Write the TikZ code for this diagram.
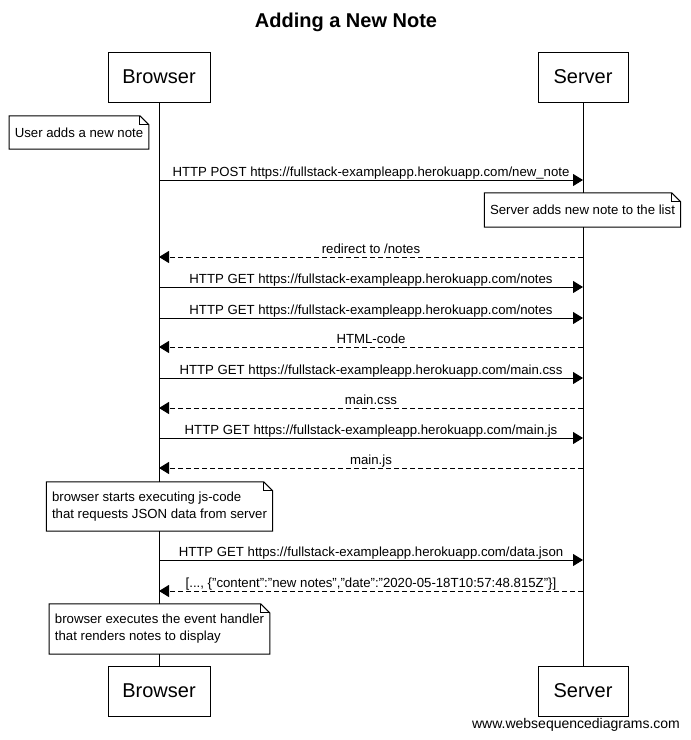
\documentclass[tikz,border=0pt]{standalone}
\usepackage{fontspec}
\setmainfont{Liberation Sans}
\usetikzlibrary{arrows.meta}
\tikzset{
  every picture/.style={x=1pt,y=-1pt},
  actor/.style={draw=black,line width=1pt,fill=white,minimum height=50pt,inner sep=0pt,font=\fontsize{20}{24}\selectfont},
  life/.style={draw=black,line width=1pt},
  msg/.style={draw=black,line width=1pt,-{Triangle[length=10pt,width=12pt]}},
  reply/.style={msg,dash pattern=on 5pt off 3pt},
  lbl/.style={anchor=base,inner sep=0pt,yshift=4pt,font=\fontsize{13.2}{15}\selectfont},
  notebox/.style={fill=white,inner xsep=5.5pt,inner ysep=0pt,font=\fontsize{13.2}{17}\selectfont,align=left},
  fold/.style={draw=black,line width=1pt}
}
\newcommand{\notefold}[1]{%
  \draw[fold] (#1.south west) -- (#1.north west) -- ([xshift=-9pt]#1.north east) -- ([yshift=-9pt]#1.north east) -- (#1.south east) -- cycle;
  \draw[fold] ([xshift=-9pt]#1.north east) -- ([xshift=-9pt,yshift=-9pt]#1.north east) -- ([yshift=-9pt]#1.north east);}
\begin{document}
\begin{tikzpicture}
\useasboundingbox (0,0) rectangle (691,740);
\fill[white] (0,0) rectangle (691,740);
\node[font=\fontsize{20}{24}\selectfont\bfseries] (title) at (346,22) {Adding a New Note};
% participants
\node[actor,minimum width=102pt] (bt) at (159,77) {Browser};
\node[actor,minimum width=90pt] (st) at (583,77) {Server};
\node[actor,minimum width=102pt] (bb) at (159,691) {Browser};
\node[actor,minimum width=90pt] (sb) at (583,691) {Server};
\draw[life] (bt.south) -- (bb.north);
\draw[life] (st.south) -- (sb.north);
% coordinates on lifelines
\foreach \n/\y in {1/180,2/257,3/287,4/318,5/347,6/378,7/408,8/438,9/468,10/560,11/591}{
  \coordinate (b\n) at (159,\y);
  \coordinate (s\n) at (583,\y);
}
% notes
\node[notebox,minimum height=33pt] (n1) at (79,132.5) {User adds a new note};
\notefold{n1}
\draw[msg] (b1) -- node[lbl]{HTTP POST https://fullstack-exampleapp.herokuapp.com/new\_note} (s1);
\node[notebox,minimum height=34pt] (n2) at (582.5,210) {Server adds new note to the list};
\notefold{n2}
\draw[reply] (s2) -- node[lbl]{redirect to /notes} (b2);
\draw[msg] (b3) -- node[lbl]{HTTP GET https://fullstack-exampleapp.herokuapp.com/notes} (s3);
\draw[msg] (b4) -- node[lbl]{HTTP GET https://fullstack-exampleapp.herokuapp.com/notes} (s4);
\draw[reply] (s5) -- node[lbl]{HTML-code} (b5);
\draw[msg] (b6) -- node[lbl]{HTTP GET https://fullstack-exampleapp.herokuapp.com/main.css} (s6);
\draw[reply] (s7) -- node[lbl]{main.css} (b7);
\draw[msg] (b8) -- node[lbl]{HTTP GET https://fullstack-exampleapp.herokuapp.com/main.js} (s8);
\draw[reply] (s9) -- node[lbl]{main.js} (b9);
\node[notebox,minimum height=49pt] (n3) at (159.5,506.5) {browser starts executing js-code\\that requests JSON data from server};
\notefold{n3}
\draw[msg] (b10) -- node[lbl]{HTTP GET https://fullstack-exampleapp.herokuapp.com/data.json} (s10);
\draw[reply] (s11) -- node[lbl]{[..., \{"content":"new notes","date":"2020-05-18T10:57:48.815Z"\}]} (b11);
\node[notebox,minimum height=50pt] (n4) at (159.5,629) {browser executes the event handler\\that renders notes to display};
\notefold{n4}
\node[font=\fontsize{14}{16}\selectfont] (foot) at (576,725) {www.websequencediagrams.com};
\end{tikzpicture}
\end{document}
